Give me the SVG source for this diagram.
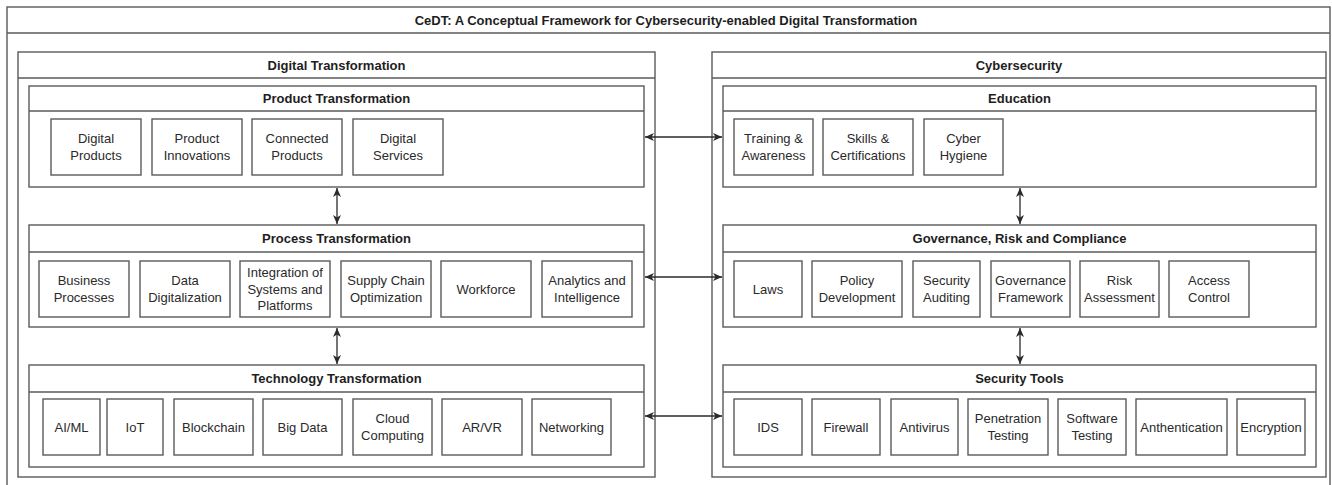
<svg xmlns="http://www.w3.org/2000/svg" width="1332" height="485" viewBox="0 0 1332 485">
<style>
  .frame { fill: #fff; stroke: #5a5a5a; stroke-width: 1.4; }
  .item { fill: #fff; stroke: #5a5a5a; stroke-width: 1.4; }
  .hdr { font-family: "Liberation Sans", Arial, sans-serif; font-size: 13px; font-weight: bold; fill: #1e1e1e; text-anchor: middle; }
  .txt { font-family: "Liberation Sans", Arial, sans-serif; font-size: 13px; fill: #2a2a2a; text-anchor: middle; }
  .conn { stroke: #2a2a2a; stroke-width: 1.3; fill: none; marker-start: url(#arr); marker-end: url(#arr); }
</style>
<defs>
  <marker id="arr" markerUnits="userSpaceOnUse" markerWidth="10" markerHeight="9" refX="9" refY="4.5" orient="auto-start-reverse">
    <path d="M0,0.5 L9,4.5 L0,8.5 L2.5,4.5 Z" fill="#2a2a2a"/>
  </marker>
</defs>
<rect width="1332" height="485" fill="#fff"/>

<g id="outer">
  <rect class="frame" x="7" y="7" width="1323" height="490"/>
  <line x1="7" y1="33" x2="1330" y2="33" stroke="#5a5a5a" stroke-width="1.4"/>
  <text class="hdr" x="666" y="24.5">CeDT: A Conceptual Framework for Cybersecurity-enabled Digital Transformation</text>
</g>

<g id="digital-transformation">
  <rect class="frame" x="18" y="52" width="637" height="425"/>
  <line x1="18" y1="78" x2="655" y2="78" stroke="#5a5a5a" stroke-width="1.4"/>
  <text class="hdr" x="336.5" y="69.5">Digital Transformation</text>
</g>

<g id="product-transformation">
  <rect class="frame" x="29" y="86" width="615" height="101"/>
  <line x1="29" y1="111" x2="644" y2="111" stroke="#5a5a5a" stroke-width="1.4"/>
  <text class="hdr" x="336.5" y="103">Product Transformation</text>
</g>
<g id="digital-products"><rect class="item" x="51" y="119" width="90" height="56"/><text class="txt" x="96" y="143.2">Digital</text><text class="txt" x="96" y="159.7">Products</text></g>
<g id="product-innovations"><rect class="item" x="152" y="119" width="90" height="56"/><text class="txt" x="197" y="143.2">Product</text><text class="txt" x="197" y="159.7">Innovations</text></g>
<g id="connected-products"><rect class="item" x="252" y="119" width="90" height="56"/><text class="txt" x="297" y="143.2">Connected</text><text class="txt" x="297" y="159.7">Products</text></g>
<g id="digital-services"><rect class="item" x="353" y="119" width="90" height="56"/><text class="txt" x="398" y="143.2">Digital</text><text class="txt" x="398" y="159.7">Services</text></g>

<g id="process-transformation">
  <rect class="frame" x="29" y="225" width="615" height="102"/>
  <line x1="29" y1="252" x2="644" y2="252" stroke="#5a5a5a" stroke-width="1.4"/>
  <text class="hdr" x="336.5" y="243">Process Transformation</text>
</g>
<g id="business-processes"><rect class="item" x="39" y="261" width="90" height="56"/><text class="txt" x="84" y="285.2">Business</text><text class="txt" x="84" y="301.7">Processes</text></g>
<g id="data-digitalization"><rect class="item" x="140" y="261" width="90" height="56"/><text class="txt" x="185" y="285.2">Data</text><text class="txt" x="185" y="301.7">Digitalization</text></g>
<g id="integration"><rect class="item" x="240" y="261" width="90" height="56"/><text class="txt" x="285" y="277">Integration of</text><text class="txt" x="285" y="293.5">Systems and</text><text class="txt" x="285" y="310">Platforms</text></g>
<g id="supply-chain"><rect class="item" x="341" y="261" width="90" height="56"/><text class="txt" x="386" y="285.2">Supply Chain</text><text class="txt" x="386" y="301.7">Optimization</text></g>
<g id="workforce"><rect class="item" x="441" y="261" width="90" height="56"/><text class="txt" x="486" y="293.5">Workforce</text></g>
<g id="analytics"><rect class="item" x="542" y="261" width="90" height="56"/><text class="txt" x="587" y="285.2">Analytics and</text><text class="txt" x="587" y="301.7">Intelligence</text></g>

<g id="technology-transformation">
  <rect class="frame" x="29" y="365" width="615" height="102"/>
  <line x1="29" y1="392" x2="644" y2="392" stroke="#5a5a5a" stroke-width="1.4"/>
  <text class="hdr" x="336.5" y="383">Technology Transformation</text>
</g>
<g id="aiml"><rect class="item" x="43" y="399" width="57" height="56"/><text class="txt" x="71.5" y="431.5">AI/ML</text></g>
<g id="iot"><rect class="item" x="107" y="399" width="56" height="56"/><text class="txt" x="135" y="431.5">IoT</text></g>
<g id="blockchain"><rect class="item" x="174" y="399" width="79" height="56"/><text class="txt" x="213.5" y="431.5">Blockchain</text></g>
<g id="big-data"><rect class="item" x="263" y="399" width="79" height="56"/><text class="txt" x="302.5" y="431.5">Big Data</text></g>
<g id="cloud-computing"><rect class="item" x="353" y="399" width="79" height="56"/><text class="txt" x="392.5" y="423.2">Cloud</text><text class="txt" x="392.5" y="439.7">Computing</text></g>
<g id="arvr"><rect class="item" x="442" y="399" width="80" height="56"/><text class="txt" x="482" y="431.5">AR/VR</text></g>
<g id="networking"><rect class="item" x="532" y="399" width="79" height="56"/><text class="txt" x="571.5" y="431.5">Networking</text></g>

<g id="cybersecurity">
  <rect class="frame" x="712" y="52" width="614" height="425"/>
  <line x1="712" y1="78" x2="1326" y2="78" stroke="#5a5a5a" stroke-width="1.4"/>
  <text class="hdr" x="1019" y="69.5">Cybersecurity</text>
</g>

<g id="education">
  <rect class="frame" x="723" y="86" width="593" height="101"/>
  <line x1="723" y1="111" x2="1316" y2="111" stroke="#5a5a5a" stroke-width="1.4"/>
  <text class="hdr" x="1019.5" y="103">Education</text>
</g>
<g id="training"><rect class="item" x="734" y="119" width="79" height="56"/><text class="txt" x="773.5" y="143.2">Training &amp;</text><text class="txt" x="773.5" y="159.7">Awareness</text></g>
<g id="skills"><rect class="item" x="823" y="119" width="90" height="56"/><text class="txt" x="868" y="143.2">Skills &amp;</text><text class="txt" x="868" y="159.7">Certifications</text></g>
<g id="cyber-hygiene"><rect class="item" x="924" y="119" width="79" height="56"/><text class="txt" x="963.5" y="143.2">Cyber</text><text class="txt" x="963.5" y="159.7">Hygiene</text></g>

<g id="grc">
  <rect class="frame" x="723" y="225" width="593" height="102"/>
  <line x1="723" y1="252" x2="1316" y2="252" stroke="#5a5a5a" stroke-width="1.4"/>
  <text class="hdr" x="1019.5" y="243">Governance, Risk and Compliance</text>
</g>
<g id="laws"><rect class="item" x="734" y="261" width="68" height="56"/><text class="txt" x="768" y="293.5">Laws</text></g>
<g id="policy"><rect class="item" x="812" y="261" width="90" height="56"/><text class="txt" x="857" y="285.2">Policy</text><text class="txt" x="857" y="301.7">Development</text></g>
<g id="auditing"><rect class="item" x="913" y="261" width="67" height="56"/><text class="txt" x="946.5" y="285.2">Security</text><text class="txt" x="946.5" y="301.7">Auditing</text></g>
<g id="gov-framework"><rect class="item" x="991" y="261" width="79" height="56"/><text class="txt" x="1030.5" y="285.2">Governance</text><text class="txt" x="1030.5" y="301.7">Framework</text></g>
<g id="risk"><rect class="item" x="1080" y="261" width="79" height="56"/><text class="txt" x="1119.5" y="285.2">Risk</text><text class="txt" x="1119.5" y="301.7">Assessment</text></g>
<g id="access"><rect class="item" x="1169" y="261" width="80" height="56"/><text class="txt" x="1209" y="285.2">Access</text><text class="txt" x="1209" y="301.7">Control</text></g>

<g id="security-tools">
  <rect class="frame" x="723" y="365" width="593" height="102"/>
  <line x1="723" y1="392" x2="1316" y2="392" stroke="#5a5a5a" stroke-width="1.4"/>
  <text class="hdr" x="1019.5" y="383">Security Tools</text>
</g>
<g id="ids"><rect class="item" x="734" y="399" width="68" height="56"/><text class="txt" x="768" y="431.5">IDS</text></g>
<g id="firewall"><rect class="item" x="812" y="399" width="68" height="56"/><text class="txt" x="846" y="431.5">Firewall</text></g>
<g id="antivirus"><rect class="item" x="891" y="399" width="67" height="56"/><text class="txt" x="924.5" y="431.5">Antivirus</text></g>
<g id="pentest"><rect class="item" x="968" y="399" width="80" height="56"/><text class="txt" x="1008" y="423.2">Penetration</text><text class="txt" x="1008" y="439.7">Testing</text></g>
<g id="software-testing"><rect class="item" x="1058" y="399" width="68" height="56"/><text class="txt" x="1092" y="423.2">Software</text><text class="txt" x="1092" y="439.7">Testing</text></g>
<g id="authentication"><rect class="item" x="1136" y="399" width="91" height="56"/><text class="txt" x="1181.5" y="431.5">Anthentication</text></g>
<g id="encryption"><rect class="item" x="1237" y="399" width="68" height="56"/><text class="txt" x="1271" y="431.5">Encryption</text></g>

<g id="connectors">
  <line class="conn" x1="337" y1="188" x2="337" y2="224"/>
  <line class="conn" x1="337" y1="328" x2="337" y2="364"/>
  <line class="conn" x1="1020" y1="188" x2="1020" y2="224"/>
  <line class="conn" x1="1020" y1="328" x2="1020" y2="364"/>
  <line class="conn" x1="645" y1="137" x2="722" y2="137"/>
  <line class="conn" x1="645" y1="277" x2="722" y2="277"/>
  <line class="conn" x1="645" y1="416" x2="722" y2="416"/>
</g>
</svg>
